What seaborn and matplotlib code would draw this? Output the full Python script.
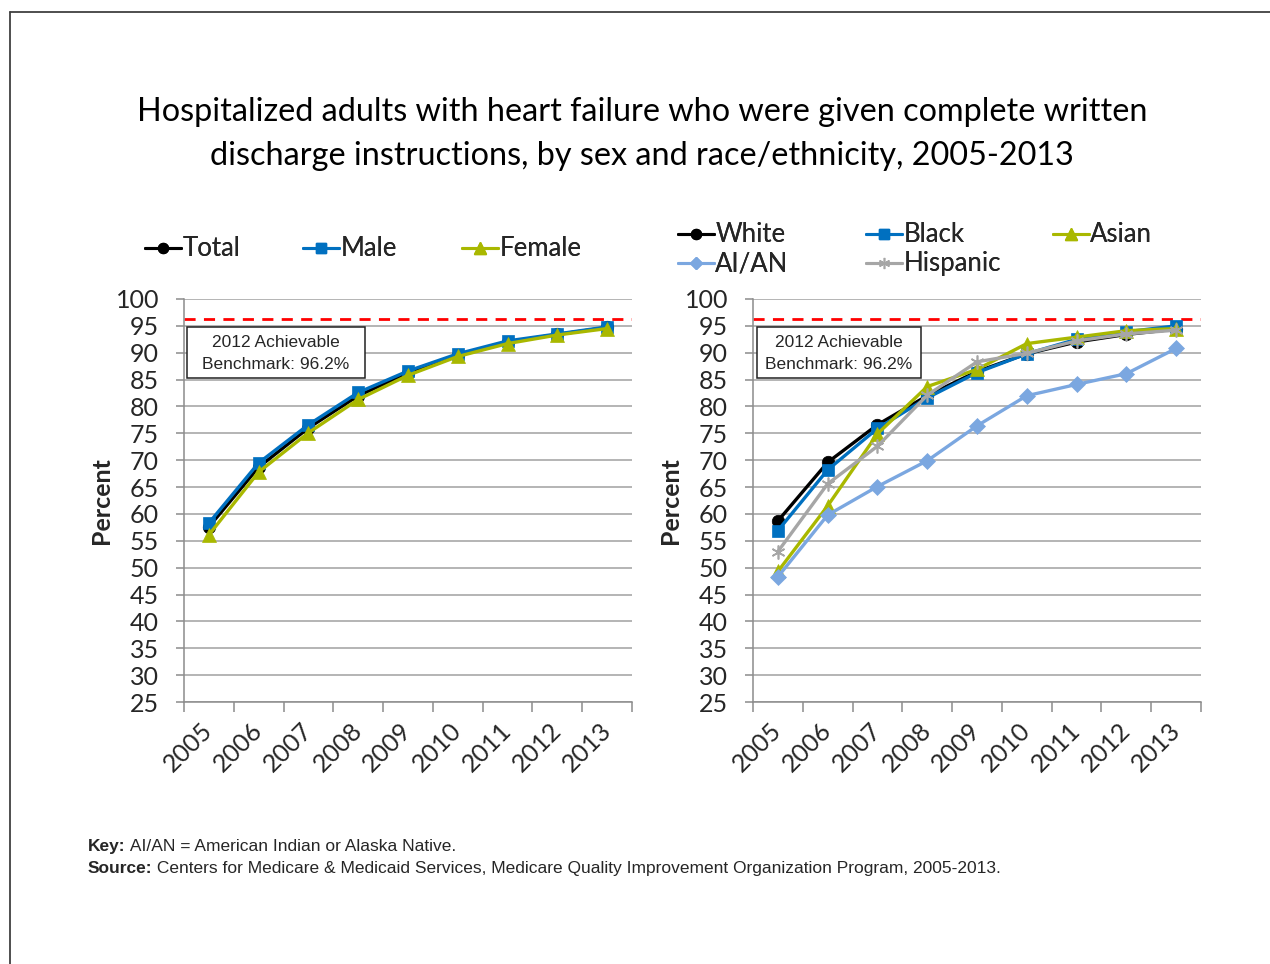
import matplotlib
matplotlib.use("Agg")
import matplotlib.pyplot as plt
import seaborn as sns
import pandas as pd
from matplotlib.lines import Line2D
from matplotlib.patches import Rectangle

years = ["2005", "2006", "2007", "2008", "2009", "2010", "2011", "2012", "2013"]

total = [57.6, 68.7, 76.0, 82.0, 86.2, 89.6, 92.0, 93.4, 94.7]
male = [58.3, 69.5, 76.6, 82.6, 86.6, 89.8, 92.2, 93.5, 94.8]
female = [56.1, 67.8, 75.1, 81.3, 85.8, 89.3, 91.7, 93.3, 94.5]

white = [58.7, 69.6, 76.6, 82.0, 86.5, 89.8, 92.0, 93.4, 94.4]
black = [56.9, 68.2, 75.9, 81.6, 86.3, 89.8, 92.5, 93.9, 95.0]
asian = [49.3, 61.5, 74.9, 83.7, 86.9, 91.7, 92.9, 94.1, 94.5]
aian = [48.3, 59.8, 65.1, 69.9, 76.4, 82.0, 84.1, 86.1, 90.8]
hispanic = [53.0, 65.6, 72.6, 82.1, 88.3, 89.9, 92.2, 93.5, 94.2]

benchmark = 96.2
benchmark_text = "2012 Achievable\nBenchmark: 96.2%"
title = ("Hospitalized adults with heart failure who were given complete written\n"
         "discharge instructions, by sex and race/ethnicity, 2005-2013")
key_label = "Key:"
key_text = " AI/AN = American Indian or Alaska Native."
source_label = "Source:"
source_text = (" Centers for Medicare & Medicaid Services, Medicare Quality Improvement "
               "Organization Program, 2005-2013.")
yticks = list(range(25, 101, 5))

sns.set_theme(style="white")
plt.rcParams["font.family"] = ["Lato", "DejaVu Sans"]

W, H = 1270, 964
fig = plt.figure(figsize=(12.7, 9.64), dpi=100)


def fx(px):
    return px / W


def fy(py):
    return 1 - py / H


# outer frame
fig.add_artist(Line2D([fx(10), fx(10)], [0, fy(12)], color="#404040", lw=1.3, transform=fig.transFigure))
fig.add_artist(Line2D([fx(10), 1.0], [fy(12), fy(12)], color="#404040", lw=1.3, transform=fig.transFigure))

fig.text(fx(642), fy(134), title, ha="center", va="center", fontsize=23.3,
         linespacing=1.55, color="black")

BLACK = "#000000"
BLUE = "#0070C0"
OLIVE = "#A9B800"
LBLUE = "#7BA7E0"
GRAY = "#A6A6A6"

left_series = [("Total", total, BLACK, "o", 9), ("Male", male, BLUE, "s", 9),
               ("Female", female, OLIVE, "^", 10)]
right_series = [("White", white, BLACK, "o", 9), ("Black", black, BLUE, "s", 9),
                ("Asian", asian, OLIVE, "^", 10), ("AI/AN", aian, LBLUE, "D", 8),
                ("Hispanic", hispanic, GRAY, (6, 2, 0), 10)]


def draw(ax, series):
    x = list(range(len(years)))
    handles = []
    for name, vals, col, mk, ms in series:
        df = pd.DataFrame({"x": x, "y": vals})
        sns.lineplot(data=df, x="x", y="y", ax=ax, color=col, marker=mk,
                     markersize=ms, linewidth=2.4, markeredgecolor=col,
                     markeredgewidth=1.2 if mk == (6, 2, 0) else 0.5, label=name, legend=False)
        handles.append(Line2D([0], [0], color=col, lw=2.2, marker=mk, markersize=ms * 0.8,
                              markeredgecolor=col))
    ax.set_xlim(-0.5, len(years) - 0.5)
    ax.set_ylim(25, 100)
    ax.set_yticks(yticks)
    ax.set_yticklabels([str(v) for v in yticks], fontsize=18)
    ax.yaxis.grid(True, color="#A0A0A0", lw=1.1)
    ax.xaxis.grid(False)
    ax.set_axisbelow(True)
    for s in ["top", "right"]:
        ax.spines[s].set_visible(False)
    for s in ["left", "bottom"]:
        ax.spines[s].set_color("#8C8C8C")
        ax.spines[s].set_linewidth(1.1)
    # x ticks at category boundaries, labels at centres
    ax.set_xticks([i - 0.5 for i in range(len(years) + 1)])
    ax.set_xticklabels([])
    ax.set_xticks(list(range(len(years))), minor=True)
    ax.set_xticklabels(years, minor=True, rotation=45, fontsize=18,
                       ha="right", va="center", rotation_mode="anchor")
    ax.tick_params(axis="x", which="major", direction="out", length=7, width=1.1,
                   color="#8C8C8C", bottom=True)
    ax.tick_params(axis="x", which="minor", length=0, pad=18, bottom=True)
    ax.tick_params(axis="y", direction="out", length=6, width=1.1, color="#8C8C8C",
                   left=True, pad=12)
    ax.set_xlabel("")
    ax.set_ylabel("Percent", fontsize=18, fontweight="bold")
    ax.yaxis.set_label_coords(-0.158, 0.5)
    ax.axhline(benchmark, color="#FF0000", lw=2, ls=(0, (4, 3)), zorder=1.5)
    return handles


axL = fig.add_axes([fx(184), fy(702), fx(632 - 184), fy(299) - fy(702)])
axR = fig.add_axes([fx(753), fy(702), fx(1201 - 753), fy(299) - fy(702)])

hL = draw(axL, left_series)
hR = draw(axR, right_series)


def bench_box(x0, x1, y0, y1):
    fig.add_artist(Rectangle((fx(x0), fy(y1)), fx(x1 - x0), fy(y0) - fy(y1),
                             transform=fig.transFigure, fc="white", ec="#222222",
                             lw=1.1, zorder=5))
    fig.text(fx((x0 + x1) / 2), fy((y0 + y1) / 2 + 1), benchmark_text, ha="center",
             va="center", fontsize=12.5, family=["Liberation Sans", "DejaVu Sans"],
             linespacing=1.6, zorder=6)


bench_box(187, 365, 327, 378)
bench_box(757, 921, 327, 378)


def legend_entry(handle, label, xpx, ypx):
    lg = fig.legend([handle], [label], loc="center left",
                    bbox_to_anchor=(fx(xpx), fy(ypx)), frameon=False, fontsize=18.5,
                    handlelength=1.4, handletextpad=0.05, borderpad=0,
                    borderaxespad=0)
    fig.add_artist(lg)


for h, (name, *_), xp in zip(hL, left_series, [145, 303, 462]):
    legend_entry(h, name, xp, 249)

pos_r = [(678, 235), (866, 235), (1053, 235), (678, 264), (866, 264)]
for h, (name, *_), (xp, yp) in zip(hR, right_series, pos_r):
    legend_entry(h, name, xp, yp)

ffam = ["Liberation Sans", "DejaVu Sans"]
fig.canvas.draw()
renderer = fig.canvas.get_renderer()
for lab, rest, ypx in [(key_label, key_text, 851), (source_label, source_text, 873)]:
    b = fig.text(fx(88), fy(ypx), lab, fontsize=12.5, fontweight="bold", family=ffam,
                 va="baseline")
    bb = b.get_window_extent(renderer)
    fig.text(bb.x1 / fig.bbox.width, fy(ypx), rest, fontsize=12.5, family=ffam,
             va="baseline")

fig.savefig("out.png", dpi=100, facecolor="white")
